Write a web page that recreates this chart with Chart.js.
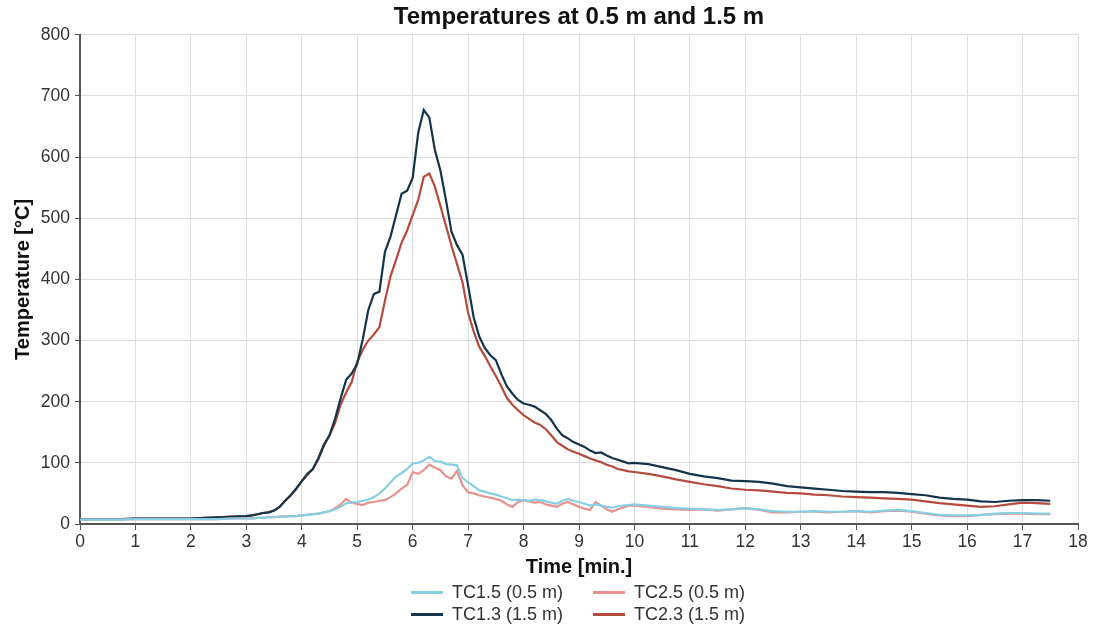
<!DOCTYPE html>
<html>
<head>
<meta charset="utf-8">
<script src="https://cdn.jsdelivr.net/npm/chart.js@4/dist/chart.umd.min.js"></script>
<style>
  body { margin: 0; background: #fff; }
  #wrap { position: relative; width: 1100px; height: 631px; }
  #legend {
    position: absolute;
    left: 411px;
    top: 581px;
    display: grid;
    grid-template-columns: 182px 182px;
    row-gap: 0px;
    font-family: "Liberation Sans", Arial, sans-serif;
    font-size: 18px;
    color: #333;
  }
  .item { display: flex; align-items: center; height: 22px; }
  .swatch { width: 32px; height: 3px; margin-right: 9px; }
</style>
</head>
<body>
<div id="wrap">
  <canvas id="chart" width="1100" height="631"></canvas>
  <div id="legend"></div>
</div>
<script>
// time axis [min]
const timeMin = [
  0, 0.25, 0.5, 0.75, 1, 1.25, 1.5, 1.75, 2, 2.25, 2.5, 2.75, 3,
  3.1, 3.2, 3.3, 3.4, 3.5, 3.6, 3.7, 3.8, 3.9,
  4.0, 4.1, 4.2, 4.3, 4.4, 4.5, 4.6, 4.7, 4.8, 4.9,
  5.0, 5.1, 5.2, 5.3, 5.4, 5.5, 5.6, 5.7, 5.8, 5.9,
  6.0, 6.1, 6.2, 6.3, 6.4, 6.5, 6.6, 6.7, 6.8, 6.9,
  7.0, 7.1, 7.2, 7.3, 7.4, 7.5, 7.6, 7.7, 7.8, 7.9,
  8.0, 8.1, 8.2, 8.3, 8.4, 8.5, 8.6, 8.7, 8.8, 8.9,
  9.0, 9.1, 9.2, 9.3, 9.4, 9.5, 9.6, 9.7, 9.8, 9.9,
  10.0,
  10.25, 10.5, 10.75, 11, 11.25, 11.5, 11.75, 12,
  12.25, 12.5, 12.75, 13, 13.25, 13.5, 13.75, 14,
  14.25, 14.5, 14.75, 15, 15.25, 15.5, 15.75, 16,
  16.25, 16.5, 16.75, 17, 17.25, 17.5
];

// TC1.5 (0.5 m)
const tc15 = [
  7, 7, 7, 7, 8, 8, 8, 8, 8, 8, 8, 9, 9,
  9, 10, 10, 11, 11, 12, 12, 13, 13,
  14, 15, 16, 17, 19, 21, 24, 28, 34, 35,
  36, 38, 40, 44, 50, 58, 68, 78, 83, 90,
  99, 100, 104, 110, 103, 102, 98, 97, 96, 75,
  68, 62, 55, 53, 50, 48, 45, 42, 39, 40,
  39, 38, 40, 39, 37, 35, 33, 38, 41, 38,
  36, 33, 30, 32, 30, 28, 27, 29, 30, 31,
  32,
  30, 28, 26, 25, 24, 23, 24, 26,
  24, 21, 20, 20, 21, 20, 20, 21,
  20, 22, 23, 21, 18, 15, 14, 14,
  15, 17, 18, 18, 17, 17
];

// TC2.5 (0.5 m)
const tc25 = [
  7, 7, 7, 7, 8, 8, 8, 8, 8, 8, 8, 9, 9,
  9, 10, 10, 11, 11, 12, 12, 13, 13,
  14, 15, 16, 17, 19, 21, 26, 32, 41, 35,
  33, 31, 35, 36, 38, 39, 44, 50, 58, 64,
  85, 82, 88, 97, 92, 88, 78, 74, 87, 63,
  52, 50, 47, 45, 43, 41, 38, 32, 28, 36,
  39, 37, 35, 36, 32, 30, 28, 33, 36, 32,
  28, 25, 23, 36, 30, 24, 20, 24, 27, 30,
  30,
  28, 25, 24, 23, 24, 22, 24, 26,
  23, 19, 19, 20, 20, 19, 20, 21,
  19, 21, 22, 20, 17, 14, 13, 13,
  15, 16, 17, 17, 16, 16
];

// TC1.3 (1.5 m)
const tc13 = [
  8, 8, 8, 8, 9, 9, 9, 9, 9, 10, 11, 12, 13,
  14, 16, 18, 19, 22, 28, 38, 47, 58,
  70, 82, 90, 108, 130, 145, 172, 205, 236, 246,
  262, 302, 350, 376, 380, 445, 470, 505, 540, 545,
  566, 640, 677, 665, 612, 578, 530, 478, 456, 440,
  390, 338, 307, 288, 276, 268, 245, 225, 213, 203,
  197, 195, 192, 186, 180, 170, 156, 145, 140, 134,
  130, 126, 120, 116, 117, 112, 108, 105, 102, 99,
  100,
  98, 93, 88, 82, 78, 75, 71, 70,
  69, 66, 62, 60, 58, 56, 54, 53,
  52, 52, 51, 49, 47, 43, 41, 40,
  37, 36, 38, 39, 39, 38
];

// TC2.3 (1.5 m)
const tc23 = [
  8, 8, 8, 8, 9, 9, 9, 9, 9, 10, 11, 12, 13,
  14, 16, 18, 19, 22, 28, 38, 47, 57,
  70, 80, 90, 106, 128, 145, 165, 195, 215, 232,
  265, 285, 300, 310, 322, 365, 405, 432, 460, 480,
  505, 530, 568, 573, 552, 520, 488, 455, 425, 395,
  345, 315, 290, 275, 258, 242, 225, 206, 195, 186,
  178, 172, 166, 162, 155, 145, 134, 128, 122, 118,
  115, 111, 107, 104, 101, 97, 94, 90, 88, 86,
  85,
  82, 78, 73, 69, 65, 62, 58, 56,
  55, 53, 51, 50, 48, 47, 45, 44,
  43, 42, 41, 40, 37, 34, 32, 30,
  28, 29, 32, 35, 34, 33
];

const seriesLabels = ["TC1.5 (0.5 m)", "TC2.5 (0.5 m)", "TC1.3 (1.5 m)", "TC2.3 (1.5 m)"];
const seriesValues = [tc15, tc25, tc13, tc23];
const seriesColors = ["#86cfe3", "#e8918d", "#13344a", "#b64a3d"];

const FONT = "'Liberation Sans', Arial, sans-serif";

const datasets = seriesLabels.map((label, i) => ({
  label: label,
  data: timeMin.map((t, j) => ({ x: t, y: seriesValues[i][j] })),
  borderColor: seriesColors[i],
  backgroundColor: seriesColors[i],
  borderWidth: 2.2,
  pointRadius: 0,
  tension: 0,
}));

const chart = new Chart(document.getElementById("chart"), {
  type: "line",
  data: { datasets: datasets },
  options: {
    responsive: false,
    animation: false,
    devicePixelRatio: 1,
    layout: { padding: { left: 0, right: 22, top: 0, bottom: 52 } },
    plugins: {
      legend: { display: false },
      tooltip: { enabled: false },
      title: {
        display: true,
        fullSize: false,
        text: "Temperatures at 0.5 m and 1.5 m",
        color: "#111",
        font: { family: FONT, size: 24, weight: "bold" },
        padding: { top: 3, bottom: 3 },
      },
    },
    scales: {
      x: {
        type: "linear",
        min: 0,
        max: 18,
        ticks: { stepSize: 1, color: "#333", font: { family: FONT, size: 17.5 }, padding: 2 },
        grid: { color: "#dcdcdc", tickColor: "#555", tickLength: 6 },
        border: { color: "#555", width: 2 },
        title: {
          display: true,
          text: "Time [min.]",
          color: "#111",
          font: { family: FONT, size: 20, weight: "bold" },
          padding: { top: 0, bottom: 0 },
        },
      },
      y: {
        min: 0,
        max: 800,
        ticks: { stepSize: 100, color: "#333", font: { family: FONT, size: 17.5 }, padding: 5 },
        grid: { color: "#dcdcdc", tickColor: "#555", tickLength: 5 },
        border: { color: "#555", width: 2 },
        title: {
          display: true,
          text: "Temperature [°C]",
          color: "#111",
          font: { family: FONT, size: 20, weight: "bold" },
          padding: { top: 11, bottom: 0 },
        },
        afterFit: (scale) => { scale.width = 80; },
      },
    },
  },
});

// 2 x 2 legend under the axis title
const legend = document.getElementById("legend");
chart.data.datasets.forEach((ds) => {
  const item = document.createElement("div");
  item.className = "item";
  const sw = document.createElement("span");
  sw.className = "swatch";
  sw.style.background = ds.borderColor;
  item.appendChild(sw);
  item.appendChild(document.createTextNode(ds.label));
  legend.appendChild(item);
});
</script>
</body>
</html>
